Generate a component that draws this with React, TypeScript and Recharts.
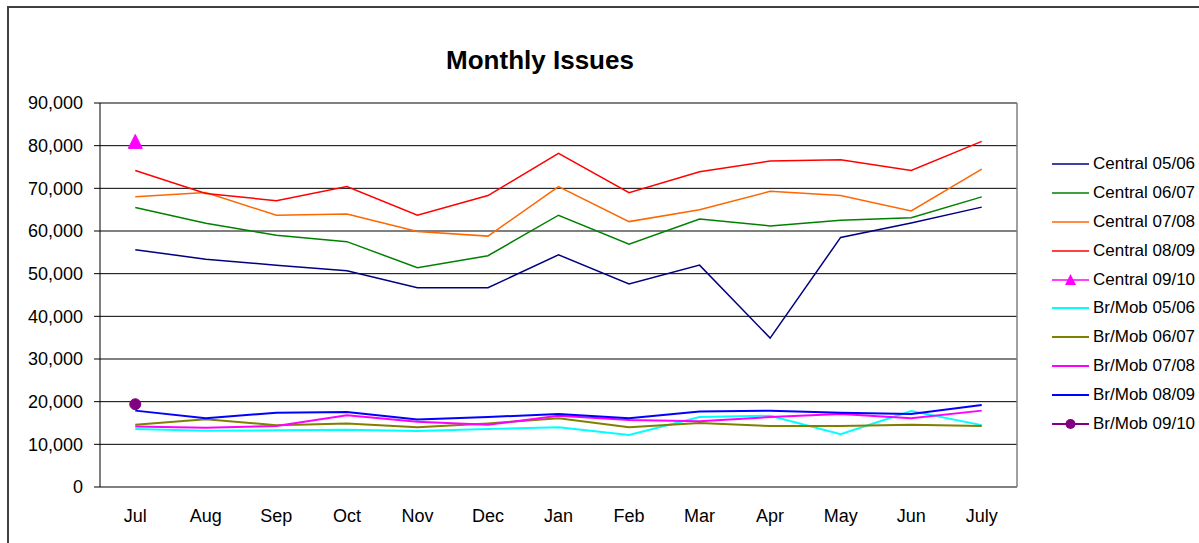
import React from 'react';
import { LineChart, Line, XAxis, YAxis, CartesianGrid, Legend, ReferenceLine } from 'recharts';

const months = ['Jul', 'Aug', 'Sep', 'Oct', 'Nov', 'Dec', 'Jan', 'Feb', 'Mar', 'Apr', 'May', 'Jun', 'July'];
const yTicks = [0, 10000, 20000, 30000, 40000, 50000, 60000, 70000, 80000, 90000];

const seriesNames = [
  'Central 05/06', 'Central 06/07', 'Central 07/08', 'Central 08/09', 'Central 09/10',
  'Br/Mob 05/06', 'Br/Mob 06/07', 'Br/Mob 07/08', 'Br/Mob 08/09', 'Br/Mob 09/10',
];

const central0506 = [55600, 53400, 52000, 50700, 46700, 46700, 54400, 47600, 52000, 34900, 58500, 61900, 65600];
const central0607 = [65500, 61800, 59000, 57500, 51400, 54200, 63700, 56900, 62800, 61200, 62500, 63100, 68000];
const central0708 = [68000, 69000, 63700, 64000, 59900, 58800, 70400, 62200, 65000, 69300, 68300, 64700, 74500];
const central0809 = [74200, 68800, 67100, 70400, 63700, 68300, 78200, 69000, 73900, 76400, 76700, 74200, 81000];
const central0910 = [81000];
const brmob0506 = [13600, 13200, 13300, 13400, 13100, 13600, 14000, 12200, 16400, 16700, 12400, 17800, 14500];
const brmob0607 = [14600, 15900, 14500, 14900, 14000, 14900, 16100, 14000, 15000, 14300, 14300, 14600, 14300];
const brmob0708 = [14200, 13900, 14300, 16800, 15300, 14600, 16700, 15700, 15400, 16400, 17100, 16100, 17900];
const brmob0809 = [17900, 16100, 17400, 17600, 15800, 16400, 17100, 16100, 17700, 17900, 17400, 17100, 19200];
const brmob0910 = [19400];

const seriesValues = [
  central0506, central0607, central0708, central0809, central0910,
  brmob0506, brmob0607, brmob0708, brmob0809, brmob0910,
];
const seriesColors = [
  '#000080', '#008000', '#FF6600', '#FF0000', '#FF00FF',
  '#00FFFF', '#808000', '#FF00FF', '#0000FF', '#800080',
];
const seriesWidths = [1.5, 1.5, 1.5, 1.5, 1.5, 2, 2, 2, 2, 2];
const seriesMarkers = ['none', 'none', 'none', 'none', 'triangle', 'none', 'none', 'none', 'none', 'circle'];

const data = months.map((m, i) => {
  const row: any = { idx: i, month: m };
  seriesNames.forEach((_, s) => {
    const v = seriesValues[s][i];
    row['s' + s] = v === undefined ? null : v;
  });
  return row;
});

const labelTicks = months.map((_, i) => i);
const boundaryTicks = months.map((_, i) => i - 0.5).concat([months.length - 0.5]);
const xDomain = [-0.5, months.length - 0.5];
const yMax = yTicks[yTicks.length - 1];

const FONT = '"Liberation Sans", Arial, sans-serif';

const makeDot = (kind: string, color: string) => (props: any) => {
  const { cx, cy, index } = props;
  if (cx == null || cy == null || props.value == null || (Array.isArray(props.value) && props.value[1] == null)) {
    return <g key={'d' + index} />;
  }
  if (kind === 'triangle') {
    return (
      <polygon
        key={'d' + index}
        points={`${cx},${cy - 7} ${cx - 7},${cy + 7} ${cx + 7},${cy + 7}`}
        fill={color}
        stroke={color}
      />
    );
  }
  return <circle key={'d' + index} cx={cx} cy={cy} r={5.5} fill={color} stroke={color} />;
};

const LegendContent = () => (
  <div style={{ fontFamily: FONT, fontSize: 17, color: '#000' }}>
    {seriesNames.map((name, s) => (
      <div key={name} style={{ height: 28.8, display: 'flex', alignItems: 'center', whiteSpace: 'nowrap' }}>
        <svg width={41} height={16} style={{ flex: 'none' }}>
          <line x1={0} x2={37} y1={8} y2={8} stroke={seriesColors[s]} strokeWidth={seriesWidths[s]} />
          {seriesMarkers[s] === 'triangle' && (
            <polygon points="18.5,2 13,13 24,13" fill={seriesColors[s]} />
          )}
          {seriesMarkers[s] === 'circle' && <circle cx={18.5} cy={8} r={5} fill={seriesColors[s]} />}
        </svg>
        <span>{name}</span>
      </div>
    ))}
  </div>
);

export default function App() {
  return (
    <div style={{ position: 'absolute', left: 0, top: 0, width: 1199, height: 543, background: '#fff', overflow: 'hidden' }}>
      <div
        style={{
          position: 'absolute',
          left: 7,
          top: 6,
          width: 1220,
          height: 560,
          border: '2px solid #404040',
          boxSizing: 'border-box',
        }}
      />
      <div
        style={{
          position: 'absolute',
          left: 0,
          top: 47,
          width: 1080,
          textAlign: 'center',
          fontFamily: FONT,
          fontWeight: 'bold',
          fontSize: 26,
          lineHeight: '26px',
          color: '#000',
        }}
      >
        Monthly Issues
      </div>
      <div style={{ position: 'absolute', left: 0, top: 0 }}>
        <LineChart
          width={1199}
          height={543}
          data={data}
          margin={{ top: 103, right: 182, bottom: 16, left: 10 }}
          style={{ fontFamily: FONT }}
        >
          <CartesianGrid horizontal vertical={false} stroke="#000" strokeWidth={1} xAxisId="lab" yAxisId="left" />
          <XAxis
            xAxisId="ticks"
            type="number"
            dataKey="idx"
            domain={xDomain}
            ticks={boundaryTicks}
            tick={false}
            tickLine={{ stroke: '#000' }}
            tickSize={6}
            axisLine={{ stroke: '#000' }}
            height={0}
            allowDataOverflow
          />
          <XAxis
            xAxisId="lab"
            type="number"
            dataKey="idx"
            domain={xDomain}
            ticks={labelTicks}
            interval={0}
            tickFormatter={(v: number) => months[v]}
            tickLine={false}
            axisLine={false}
            tickSize={6}
            tickMargin={16}
            height={40}
            tick={{ fontSize: 18, fill: '#000', fontFamily: FONT }}
            allowDataOverflow
          />
          <YAxis
            yAxisId="left"
            type="number"
            domain={[0, yMax]}
            ticks={yTicks}
            interval={0}
            width={90}
            tickSize={6}
            tickMargin={11}
            tickFormatter={(v: number) => v.toLocaleString('en-US')}
            tick={{ fontSize: 18, fill: '#000', fontFamily: FONT }}
            tickLine={{ stroke: '#000' }}
            axisLine={{ stroke: '#000' }}
            allowDataOverflow
          />
          <ReferenceLine xAxisId="lab" yAxisId="left" y={yMax} stroke="#808080" strokeWidth={1.5} ifOverflow="visible" />
          <ReferenceLine xAxisId="lab" yAxisId="left" x={xDomain[1]} stroke="#808080" strokeWidth={1.5} ifOverflow="visible" />
          <Legend
            layout="vertical"
            align="center"
            verticalAlign="middle"
            wrapperStyle={{ left: 1052, top: 150, width: 147 }}
            content={() => <LegendContent />}
          />
          {seriesNames.map((name, s) => (
            <Line
              key={name}
              name={name}
              xAxisId="lab"
              yAxisId="left"
              type="linear"
              dataKey={'s' + s}
              stroke={seriesColors[s]}
              strokeWidth={seriesWidths[s]}
              dot={seriesMarkers[s] === 'none' ? false : makeDot(seriesMarkers[s], seriesColors[s])}
              activeDot={false}
              isAnimationActive={false}
              connectNulls={false}
            />
          ))}
        </LineChart>
      </div>
    </div>
  );
}
